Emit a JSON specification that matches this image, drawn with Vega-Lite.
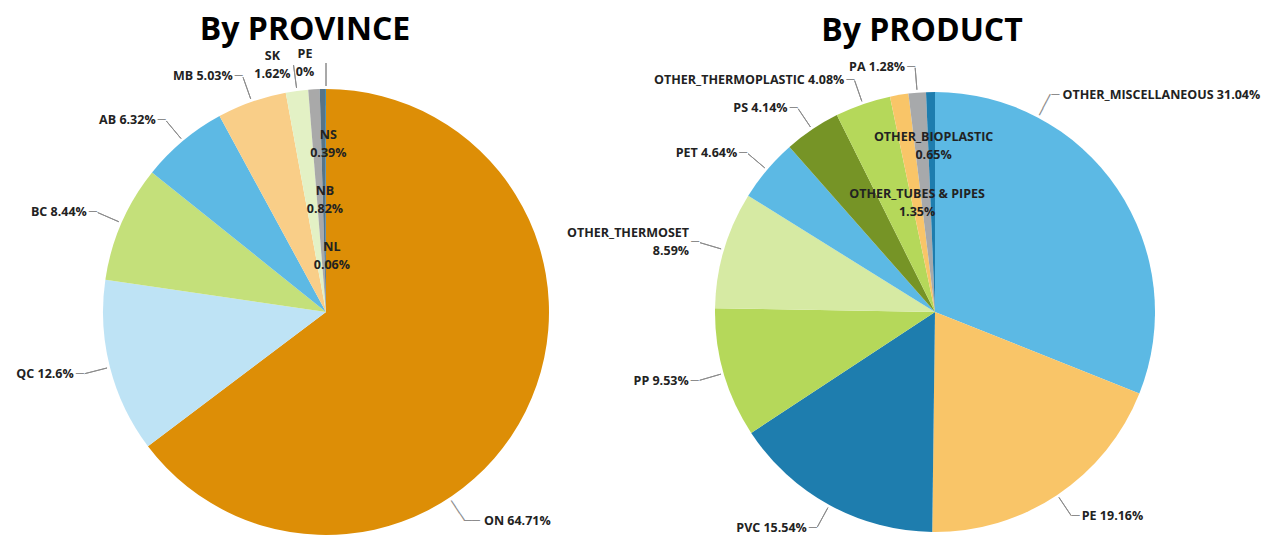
{
  "$schema": "https://vega.github.io/schema/vega-lite/v6.json",
  "background": "white",
  "padding": {"left": 0, "right": 0, "top": 14, "bottom": 0},
  "autosize": {"type": "pad"},
  "spacing": 0,
  "bounds": "flush",
  "config": {"view": {"stroke": null}},
  "resolve": {"scale": {"theta": "independent", "color": "independent"}},
  "datasets": {
    "prov": [
      {"cat": "ON", "value": 64.71, "label": "ON 64.71%"},
      {"cat": "QC", "value": 12.6, "label": "QC 12.6%"},
      {"cat": "BC", "value": 8.44, "label": "BC 8.44%"},
      {"cat": "AB", "value": 6.32, "label": "AB 6.32%"},
      {"cat": "MB", "value": 5.03, "label": "MB 5.03%"},
      {"cat": "SK", "value": 1.62, "label": "SK\n1.62%"},
      {"cat": "NB", "value": 0.82, "label": "NB\n0.82%"},
      {"cat": "NS", "value": 0.39, "label": "NS\n0.39%"},
      {"cat": "NL", "value": 0.06, "label": "NL\n0.06%"},
      {"cat": "PE", "value": 0, "label": "PE\n0%"}
    ],
    "prod": [
      {"cat": "OTHER_MISCELLANEOUS", "value": 31.04, "label": "OTHER_MISCELLANEOUS 31.04%"},
      {"cat": "PE", "value": 19.16, "label": "PE 19.16%"},
      {"cat": "PVC", "value": 15.54, "label": "PVC 15.54%"},
      {"cat": "PP", "value": 9.53, "label": "PP 9.53%"},
      {"cat": "OTHER_THERMOSET", "value": 8.59, "label": "OTHER_THERMOSET\n8.59%"},
      {"cat": "PET", "value": 4.64, "label": "PET 4.64%"},
      {"cat": "PS", "value": 4.14, "label": "PS 4.14%"},
      {"cat": "OTHER_THERMOPLASTIC", "value": 4.08, "label": "OTHER_THERMOPLASTIC 4.08%"},
      {"cat": "OTHER_TUBES & PIPES", "value": 1.35, "label": "OTHER_TUBES & PIPES\n1.35%"},
      {"cat": "PA", "value": 1.28, "label": "PA 1.28%"},
      {"cat": "OTHER_BIOPLASTIC", "value": 0.65, "label": "OTHER_BIOPLASTIC\n0.65%"}
    ]
  },
  "hconcat": [
    {
      "width": 652,
      "height": 452,
      "title": {"text": "By PROVINCE", "font": "Open Sans", "fontSize": 32, "fontWeight": "bold", "color": "#000000", "anchor": "middle", "frame": "group", "dx": -21, "offset": 1},
      "data": {"name": "prov"},
      "encoding": {
        "theta": {"field": "value", "type": "quantitative", "stack": true},
        "order": {"field": "value", "type": "quantitative", "sort": "descending"},
        "detail": {"field": "cat", "type": "nominal"}
      },
      "layer": [
        {
          "mark": {"type": "arc", "radius": 223},
          "encoding": {
            "color": {"field": "cat", "type": "nominal", "legend": null,
              "scale": {"domain": ["ON", "QC", "BC", "AB", "MB", "SK", "NB", "NS", "NL", "PE"],
                        "range": ["#DD8E06", "#BEE3F5", "#C4E07A", "#5DB9E4", "#F9CE88", "#E3F1C5", "#A9A9A9", "#587487", "#1E7DAE", "#759325"]}}
          }
        },
        {
          "mark": {"type": "arc", "radius": 249, "radius2": 226, "padAngle": 3.1, "fillOpacity": 0, "stroke": "#8c8c8c", "strokeWidth": 1},
          "encoding": {"strokeOpacity": {"condition": {"test": "indexof(['QC','BC','AB','MB','SK','PE'], datum.cat) >= 0", "value": 1}, "value": 0}}
        },
        {
          "transform": [{"filter": "datum.cat === 'ON'"}],
          "mark": {"type": "text", "radius": 238, "thetaOffset": 0.524, "angle": 56.5, "align": "center", "baseline": "middle", "font": "DejaVu Sans", "fontSize": 13, "color": "#8c8c8c"},
          "encoding": {"text": {"value": "───"}}
        },
        {
          "transform": [{"filter": "datum.cat === 'ON'"}],
          "mark": {"type": "text", "radius": 250, "thetaOffset": 0.524, "dx": 8, "align": "center", "baseline": "middle", "font": "DejaVu Sans", "fontSize": 13, "color": "#8c8c8c"},
          "encoding": {"text": {"value": "──"}}
        },
        {
          "transform": [{"filter": "datum.cat === 'ON'"}],
          "mark": {"type": "text", "radius": 250, "thetaOffset": 0.524, "dx": 20, "align": "left", "baseline": "middle", "font": "Open Sans", "fontSize": 12.5, "fontWeight": "bold", "color": "#222222"},
          "encoding": {"text": {"field": "label", "type": "nominal"}}
        },
        {
          "mark": {"type": "text", "radius": 250, "dx": -4, "align": "center", "baseline": "middle", "font": "DejaVu Sans", "fontSize": 13, "color": "#8c8c8c"},
          "encoding": {"text": {"condition": {"test": "indexof(['QC','BC','AB','MB'], datum.cat) >= 0", "value": "─"}, "value": ""}}
        },
        {
          "mark": {"type": "text", "radius": 250, "dx": -10, "align": "right", "baseline": "middle", "font": "Open Sans", "fontSize": 12.5, "fontWeight": "bold", "color": "#222222"},
          "encoding": {"text": {"condition": {"test": "indexof(['QC','BC','AB','MB'], datum.cat) >= 0", "field": "label", "type": "nominal"}, "value": ""}}
        },
        {
          "mark": {"type": "text", "radius": 250, "dx": -21, "dy": -8, "align": "center", "baseline": "middle", "font": "Open Sans", "fontSize": 12.5, "fontWeight": "bold", "color": "#222222", "lineBreak": "\n", "lineHeight": 18},
          "encoding": {"text": {"condition": {"test": "indexof(['SK','PE'], datum.cat) >= 0", "field": "label", "type": "nominal"}, "value": ""}}
        },
        {
          "mark": {"type": "text", "radius": 168, "dx": 5, "dy": -9, "align": "center", "baseline": "middle", "font": "Open Sans", "fontSize": 12.5, "fontWeight": "bold", "color": "#222222", "lineBreak": "\n", "lineHeight": 18},
          "encoding": {"text": {"condition": {"test": "datum.cat === 'NS'", "field": "label", "type": "nominal"}, "value": ""}}
        },
        {
          "mark": {"type": "text", "radius": 112, "dx": 5, "dy": -9, "align": "center", "baseline": "middle", "font": "Open Sans", "fontSize": 12.5, "fontWeight": "bold", "color": "#222222", "lineBreak": "\n", "lineHeight": 18},
          "encoding": {"text": {"condition": {"test": "datum.cat === 'NB'", "field": "label", "type": "nominal"}, "value": ""}}
        },
        {
          "mark": {"type": "text", "radius": 56, "dx": 6, "dy": -9, "align": "center", "baseline": "middle", "font": "Open Sans", "fontSize": 12.5, "fontWeight": "bold", "color": "#222222", "lineBreak": "\n", "lineHeight": 18},
          "encoding": {"text": {"condition": {"test": "datum.cat === 'NL'", "field": "label", "type": "nominal"}, "value": ""}}
        }
      ]
    },
    {
      "width": 566,
      "height": 452,
      "title": {"text": "By PRODUCT", "font": "Open Sans", "fontSize": 32, "fontWeight": "bold", "color": "#000000", "anchor": "middle", "frame": "group", "dx": -13, "offset": 3},
      "data": {"name": "prod"},
      "encoding": {
        "theta": {"field": "value", "type": "quantitative", "stack": true},
        "order": {"field": "value", "type": "quantitative", "sort": "descending"},
        "detail": {"field": "cat", "type": "nominal"}
      },
      "layer": [
        {
          "mark": {"type": "arc", "radius": 220},
          "encoding": {
            "color": {"field": "cat", "type": "nominal", "legend": null,
              "scale": {"domain": ["OTHER_MISCELLANEOUS", "PE", "PVC", "PP", "OTHER_THERMOSET", "PET", "PS", "OTHER_THERMOPLASTIC", "OTHER_TUBES & PIPES", "PA", "OTHER_BIOPLASTIC"],
                        "range": ["#5CB9E4", "#F9C568", "#1E7DAE", "#B5D85A", "#D6EAA3", "#5CB9E4", "#769426", "#B5D85A", "#F9C568", "#A7A9AB", "#1E7DAE"]}}
          }
        },
        {
          "mark": {"type": "arc", "radius": 245, "radius2": 223, "padAngle": 3.1, "fillOpacity": 0, "stroke": "#8c8c8c", "strokeWidth": 1},
          "encoding": {"strokeOpacity": {"condition": {"test": "indexof(['PE','PVC','PP','OTHER_THERMOSET','PET','PS','OTHER_THERMOPLASTIC','PA'], datum.cat) >= 0", "value": 1}, "value": 0}}
        },
        {
          "transform": [{"filter": "datum.cat === 'OTHER_MISCELLANEOUS'"}],
          "mark": {"type": "text", "radius": 234.5, "thetaOffset": -0.4864, "angle": 298, "align": "center", "baseline": "middle", "font": "DejaVu Sans", "fontSize": 13, "color": "#8c8c8c"},
          "encoding": {"text": {"value": "───"}}
        },
        {
          "transform": [{"filter": "datum.cat === 'OTHER_MISCELLANEOUS'"}],
          "mark": {"type": "text", "radius": 246, "thetaOffset": -0.4864, "dx": 5, "align": "center", "baseline": "middle", "font": "DejaVu Sans", "fontSize": 13, "color": "#8c8c8c"},
          "encoding": {"text": {"value": "─"}}
        },
        {
          "transform": [{"filter": "datum.cat === 'OTHER_MISCELLANEOUS'"}],
          "mark": {"type": "text", "radius": 246, "thetaOffset": -0.4864, "dx": 12, "align": "left", "baseline": "middle", "font": "Open Sans", "fontSize": 12.5, "fontWeight": "bold", "color": "#222222"},
          "encoding": {"text": {"field": "label", "type": "nominal"}}
        },
        {
          "mark": {"type": "text", "radius": 246, "dx": -4, "align": "center", "baseline": "middle", "font": "DejaVu Sans", "fontSize": 13, "color": "#8c8c8c"},
          "encoding": {"text": {"condition": {"test": "indexof(['PVC','PP','OTHER_THERMOSET','PET','PS','OTHER_THERMOPLASTIC','PA'], datum.cat) >= 0", "value": "─"}, "value": ""}}
        },
        {
          "mark": {"type": "text", "radius": 246, "dx": 4, "align": "center", "baseline": "middle", "font": "DejaVu Sans", "fontSize": 13, "color": "#8c8c8c"},
          "encoding": {"text": {"condition": {"test": "datum.cat === 'PE'", "value": "─"}, "value": ""}}
        },
        {
          "mark": {"type": "text", "radius": 246, "dx": -10, "align": "right", "baseline": "middle", "font": "Open Sans", "fontSize": 12.5, "fontWeight": "bold", "color": "#222222"},
          "encoding": {"text": {"condition": {"test": "indexof(['PVC','PP','PET','PS','OTHER_THERMOPLASTIC','PA'], datum.cat) >= 0", "field": "label", "type": "nominal"}, "value": ""}}
        },
        {
          "mark": {"type": "text", "radius": 246, "dx": -10, "dy": -9, "align": "right", "baseline": "middle", "font": "Open Sans", "fontSize": 12.5, "fontWeight": "bold", "color": "#222222", "lineBreak": "\n", "lineHeight": 18},
          "encoding": {"text": {"condition": {"test": "datum.cat === 'OTHER_THERMOSET'", "field": "label", "type": "nominal"}, "value": ""}}
        },
        {
          "mark": {"type": "text", "radius": 246, "dx": 10, "align": "left", "baseline": "middle", "font": "Open Sans", "fontSize": 12.5, "fontWeight": "bold", "color": "#222222"},
          "encoding": {"text": {"condition": {"test": "datum.cat === 'PE'", "field": "label", "type": "nominal"}, "value": ""}}
        },
        {
          "mark": {"type": "text", "radius": 110, "dy": -9, "align": "center", "baseline": "middle", "font": "Open Sans", "fontSize": 12.5, "fontWeight": "bold", "color": "#222222", "lineBreak": "\n", "lineHeight": 18},
          "encoding": {"text": {"condition": {"test": "datum.cat === 'OTHER_TUBES & PIPES'", "field": "label", "type": "nominal"}, "value": ""}}
        },
        {
          "mark": {"type": "text", "radius": 166, "dx": 2, "dy": -9, "align": "center", "baseline": "middle", "font": "Open Sans", "fontSize": 12.5, "fontWeight": "bold", "color": "#222222", "lineBreak": "\n", "lineHeight": 18},
          "encoding": {"text": {"condition": {"test": "datum.cat === 'OTHER_BIOPLASTIC'", "field": "label", "type": "nominal"}, "value": ""}}
        }
      ]
    }
  ]
}
